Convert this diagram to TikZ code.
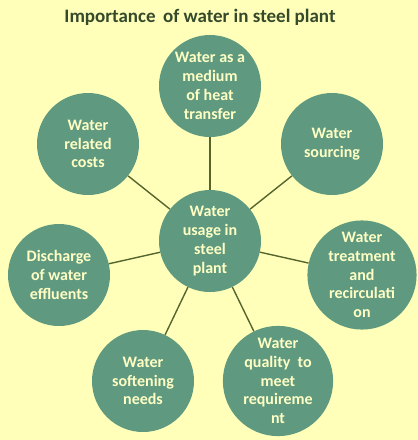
\documentclass[tikz,border=0pt]{standalone}
\usepackage{fontspec}
\setmainfont{Carlito}
\definecolor{bg}{HTML}{FFFFB9}
\definecolor{circ}{HTML}{5F9A80}
\definecolor{txt}{HTML}{FFFFC4}
\definecolor{ttl}{HTML}{354A2A}
\definecolor{lnk}{HTML}{55652E}
\begin{document}
\begin{tikzpicture}[x=1pt,y=-1pt,
  bubble/.style={circle,fill=circ,minimum size=102pt,inner sep=0pt,align=center,
    text=txt,font=\fontsize{16}{18.8}\selectfont\bfseries},
  link/.style={draw=lnk,line width=1.4pt}]
\fill[bg] (0,0) rectangle (418,440);
\useasboundingbox (0,0) rectangle (418,440);
\node[text=ttl,font=\fontsize{19}{22}\selectfont\bfseries] (title) at (200,17) {Importance\, of water in steel plant};
\node[bubble] (c) at (210,241) {Water\\usage in\\steel\\plant};
\node[bubble] (t) at (210,86) {Water as a\\medium\\of heat\\transfer};
\node[bubble] (tl) at (88,144) {Water\\related\\costs};
\node[bubble] (tr) at (332,144) {Water\\sourcing};
\node[bubble] (r) at (362,275) {Water\\treatment\\and\\recirculati\\on};
\node[bubble] (br) at (278,381) {Water\\quality~ to\\meet\\requireme\\nt};
\node[bubble] (bl) at (143,381) {Water\\softening\\needs};
\node[bubble] (l) at (59,275) {Discharge\\of water\\effluents};
\foreach \o in {t,tl,tr,r,br,bl,l} \draw[link] (c) -- (\o);
\end{tikzpicture}
\end{document}
